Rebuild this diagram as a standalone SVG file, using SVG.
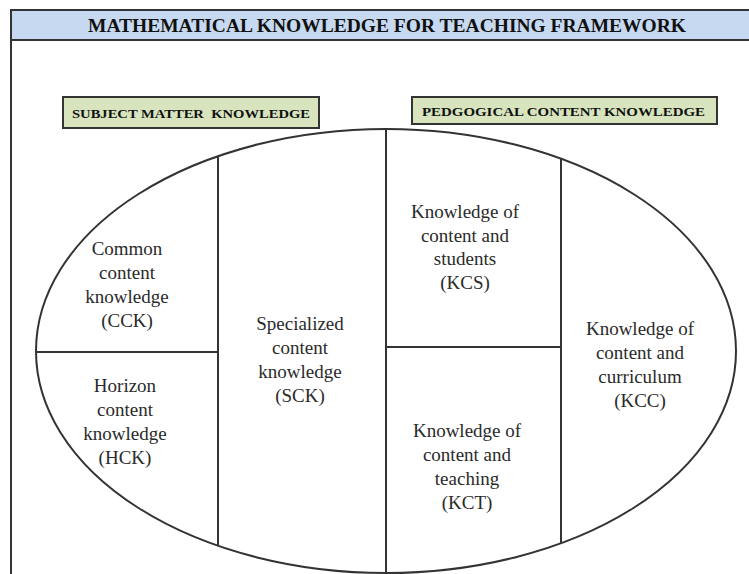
<svg xmlns="http://www.w3.org/2000/svg" width="749" height="574" viewBox="0 0 749 574">
<style>
.t{font-family:"Liberation Serif","Times New Roman",serif;font-size:19px;fill:#2a2a2a;text-anchor:middle}
.h{font-family:"Liberation Serif","Times New Roman",serif;font-weight:bold;fill:#111;text-anchor:middle}
.ln{stroke:#333;stroke-width:2;fill:none}
.box{fill:#d7e4bd;stroke:#333;stroke-width:2}
</style>
<rect width="749" height="574" fill="#fff"/>
<g id="frame">
<line x1="11" y1="10" x2="11" y2="574" stroke="#333" stroke-width="2"/>
<rect x="11" y="10" width="740" height="30" fill="#c6d9f0" stroke="#333" stroke-width="2"/>
<text class="h" x="387" y="32" font-size="19.5" textLength="598" lengthAdjust="spacingAndGlyphs">MATHEMATICAL KNOWLEDGE FOR TEACHING FRAMEWORK</text>
</g>
<g id="smk">
<rect class="box" x="63" y="97" width="256" height="31"/>
<text class="h" x="191" y="118" font-size="13.5" textLength="238" lengthAdjust="spacingAndGlyphs" xml:space="preserve">SUBJECT MATTER  KNOWLEDGE</text>
</g>
<g id="pck">
<rect class="box" x="412" y="97" width="305" height="27"/>
<text class="h" x="563.5" y="116" font-size="13.5" textLength="283" lengthAdjust="spacingAndGlyphs">PEDGOGICAL CONTENT KNOWLEDGE</text>
</g>
<g id="connectors">
<ellipse class="ln" cx="386" cy="351" rx="350" ry="222"/>
<line class="ln" x1="218" y1="156" x2="218" y2="546"/>
<line class="ln" x1="386" y1="129" x2="386" y2="573"/>
<line class="ln" x1="561" y1="159" x2="561" y2="543"/>
<line class="ln" x1="36" y1="352" x2="218" y2="352"/>
<line class="ln" x1="386" y1="347" x2="561" y2="347"/>
</g>
<g id="cck">
<text class="t" x="127" y="255">Common</text>
<text class="t" x="127" y="279">content</text>
<text class="t" x="127" y="303">knowledge</text>
<text class="t" x="127" y="327">(CCK)</text>
</g>
<g id="hck">
<text class="t" x="125" y="392">Horizon</text>
<text class="t" x="125" y="416">content</text>
<text class="t" x="125" y="440">knowledge</text>
<text class="t" x="125" y="464">(HCK)</text>
</g>
<g id="sck">
<text class="t" x="300" y="330">Specialized</text>
<text class="t" x="300" y="354">content</text>
<text class="t" x="300" y="378">knowledge</text>
<text class="t" x="300" y="402">(SCK)</text>
</g>
<g id="kcs">
<text class="t" x="465" y="218">Knowledge of</text>
<text class="t" x="465" y="242">content and</text>
<text class="t" x="465" y="265">students</text>
<text class="t" x="465" y="289">(KCS)</text>
</g>
<g id="kct">
<text class="t" x="467" y="437">Knowledge of</text>
<text class="t" x="467" y="461">content and</text>
<text class="t" x="467" y="485">teaching</text>
<text class="t" x="467" y="509">(KCT)</text>
</g>
<g id="kcc">
<text class="t" x="640" y="335">Knowledge of</text>
<text class="t" x="640" y="359">content and</text>
<text class="t" x="640" y="383">curriculum</text>
<text class="t" x="640" y="407">(KCC)</text>
</g>
</svg>
